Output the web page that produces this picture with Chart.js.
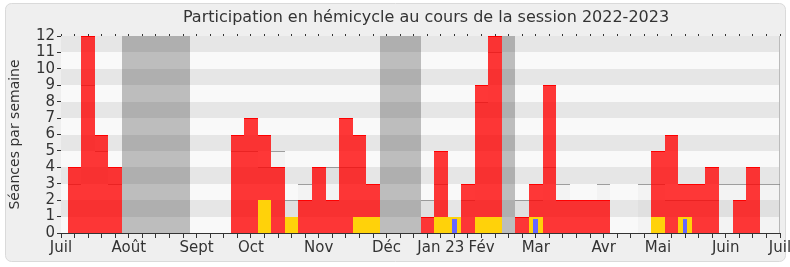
<!DOCTYPE html>
<html>
<head>
<meta charset="utf-8">
<script src="https://cdn.jsdelivr.net/npm/chart.js@4"></script>
<style>
  html, body { margin: 0; padding: 0; background: #fff; }
  #wrap { width: 790px; height: 267px; }
</style>
</head>
<body>
<div id="wrap"><canvas id="participation" width="790" height="267"></canvas></div>
<script>
// Semaines de la session (0 = début juillet 2022, 53 = début juillet 2023)
const weeks = Array.from({ length: 54 }, (_, i) => i);

// Libellés des mois, placés sur la semaine correspondante
const monthTicks = { 0: 'Juil', 5: 'Août', 10: 'Sept', 14: 'Oct', 19: 'Nov', 24: 'Déc',
  28: 'Jan 23', 31: 'Fév', 35: 'Mar', 40: 'Avr', 44: 'Mai', 49: 'Juin', 53: 'Juil' };

// Présences en hémicycle (rouge)
const presences = [0, 4, 12, 6, 4, 0, 0, 0, 0, 0, 0, 0, 0, 6, 7, 6, 4, 0, 2, 4, 2, 7, 6, 3, 0, 0, 0,
  1, 5, 0, 3, 9, 12, 0, 1, 3, 9, 2, 2, 2, 2, 0, 0, 0, 5, 6, 3, 3, 4, 0, 2, 4, 0, 0];
// Interventions (jaune)
const interventions = [0, 0, 0, 0, 0, 0, 0, 0, 0, 0, 0, 0, 0, 0, 0, 2, 0, 1, 0, 0, 0, 0, 1, 1, 0, 0, 0,
  0, 1, 1, 0, 1, 1, 0, 0, 1, 0, 0, 0, 0, 0, 0, 0, 0, 1, 0, 1, 0, 0, 0, 0, 0, 0, 0];
// Questions (bleu)
const questions = [0, 0, 0, 0, 0, 0, 0, 0, 0, 0, 0, 0, 0, 0, 0, 0, 0, 0, 0, 0, 0, 0, 0, 0, 0, 0, 0,
  0, 0, 0.85, 0, 0, 0, 0, 0, 0.85, 0, 0, 0, 0, 0, 0, 0, 0, 0, 0, 0.85, 0, 0, 0, 0, 0, 0, 0];
// Présence médiane des députés (gris)
const mediane = [0, 3, 9, 5, 3, 0, 0, 0, 0, 0, 0, 0, 0, 5, 5, 4, 5, 2, 3, 4, 4, 4, 4, 3, 0, 0, 0,
  2, 3, 1, 2, 8, 11, 0, 2, 2, 4, 3, 2, 2, 3, 0, 0, 3, 3, 2, 2, 2, 2, 3, 3, 3, 3, 3];
// Vacances parlementaires
const vacances = [0, 0, 0, 0, 0, 12, 12, 12, 12, 12, 0, 0, 0, 0, 0, 0, 0, 0, 0, 0, 0, 0, 0, 0, 12, 12, 12,
  0, 0, 0, 0, 0, 0, 12, 0, 0, 0, 0, 0, 0, 0, 0, 0, 0, 0, 0, 0, 0, 0, 0, 0, 0, 0, 0];

const toPoints = arr => weeks.map(w => ({ x: w, y: arr[w] > 0 ? arr[w] : null }));

const FONT = 'DejaVu Sans';
const INK = '#333';

// fond du cadre + bandes horizontales alternées
const backdrop = {
  id: 'backdrop',
  beforeDraw(chart) {
    const c = chart.ctx;
    c.save();
    c.fillStyle = '#fff';
    c.fillRect(0, 0, chart.width, chart.height);
    c.beginPath();
    c.roundRect(5.5, 3.5, 780, 258, 6);
    c.fillStyle = '#efefef';
    c.fill();
    c.strokeStyle = '#dadada';
    c.lineWidth = 1;
    c.stroke();
    c.fillStyle = INK;
    c.font = '16px ' + FONT;
    c.textAlign = 'center';
    c.textBaseline = 'middle';
    c.fillText('Participation en hémicycle au cours de la session 2022-2023', 426, 18);
    c.restore();
  },
  beforeDatasetsDraw(chart) {
    const { ctx: c, chartArea: a, scales: { y } } = chart;
    c.save();
    for (let k = 0; k < 12; k++) {
      const top = Math.round(y.getPixelForValue(k + 1)), bot = Math.round(y.getPixelForValue(k));
      c.fillStyle = k % 2 ? '#e6e6e6' : '#f9f9f9';
      c.fillRect(a.left, top, a.right - a.left, bot - top);
    }
    c.strokeStyle = '#bbb';
    c.beginPath();
    c.moveTo(a.right - 0.5, a.top);
    c.lineTo(a.right - 0.5, a.bottom);
    c.stroke();
    c.restore();
  }
};

// cale les barres sur des pixels entiers : pas de liseré entre semaines contiguës
const snapBars = {
  id: 'snapBars',
  afterDatasetsUpdate(chart) {
    chart.data.datasets.forEach((ds, i) => {
      chart.getDatasetMeta(i).data.forEach(el => {
        const l = Math.round(el.x - el.width / 2), r = Math.round(el.x + el.width / 2);
        el.x = (l + r) / 2;
        el.width = r - l;
        el.y = Math.round(el.y);
        el.base = Math.round(el.base);
      });
    });
  }
};

const barBase = { grouped: false, categoryPercentage: 1, barPercentage: 1, borderSkipped: 'start', inflateAmount: 0 };

new Chart(document.getElementById('participation'), {
  type: 'bar',
  data: {
    datasets: [
      { ...barBase, label: 'Questions', data: toPoints(questions), order: 1,
        backgroundColor: 'rgb(102,102,255)', barPercentage: 0.36 },
      { ...barBase, label: 'Interventions', data: toPoints(interventions), order: 2,
        backgroundColor: 'rgb(255,210,10)' },
      { ...barBase, label: 'Présences', data: toPoints(presences), order: 3,
        backgroundColor: 'rgba(255,0,0,0.78)', borderColor: 'rgb(255,0,0)',
        borderWidth: { top: 1, left: 0, right: 0, bottom: 0 } },
      { ...barBase, label: 'Vacances', data: toPoints(vacances), order: 4,
        backgroundColor: 'rgba(0,0,0,0.24)' },
      { ...barBase, label: 'Médiane', data: toPoints(mediane), order: 5,
        backgroundColor: 'rgba(0,0,0,0.025)', borderColor: 'rgba(120,120,120,0.7)',
        borderWidth: { top: 1, left: 0, right: 0, bottom: 0 } }
    ]
  },
  options: {
    responsive: false,
    animation: false,
    layout: { padding: { left: 0, right: 10, top: 33, bottom: 0 } },
    plugins: { legend: { display: false }, tooltip: { enabled: false }, title: { display: false } },
    scales: {
      x: {
        type: 'linear', min: 0, max: 53, position: 'bottom', offset: false,
        afterBuildTicks: s => { s.ticks = weeks.map(w => ({ value: w })); },
        afterFit: s => { s.height = 34; s.paddingLeft = 0; s.paddingRight = 0; },
        ticks: {
          autoSkip: false, maxRotation: 0, padding: 1, color: INK,
          font: { family: FONT, size: 15 },
          callback: v => monthTicks[v] || ''
        },
        grid: { drawOnChartArea: false, tickLength: 5, color: INK, offset: false },
        border: { color: INK, width: 1 }
      },
      xTop: {
        type: 'linear', min: 0, max: 53, position: 'top', axis: 'x', offset: false,
        afterBuildTicks: s => { s.ticks = weeks.map(w => ({ value: w })); },
        afterFit: s => { s.height = 3; s.paddingLeft = 0; s.paddingRight = 0; },
        ticks: { display: false },
        grid: { drawOnChartArea: false, tickLength: 2, color: INK, offset: false },
        border: { display: false }
      },
      y: {
        min: 0, max: 12,
        afterFit: s => { s.width = 61; },
        ticks: { stepSize: 1, autoSkip: false, padding: 2, color: INK, font: { family: FONT, size: 15 } },
        grid: { drawOnChartArea: false, tickLength: 4, color: INK },
        border: { color: INK, width: 1 },
        title: { display: true, text: 'Séances par semaine', color: INK,
          font: { family: FONT, size: 14 }, padding: { top: 7, bottom: 0 } }
      }
    }
  },
  plugins: [backdrop, snapBars]
});
</script>
</body>
</html>
